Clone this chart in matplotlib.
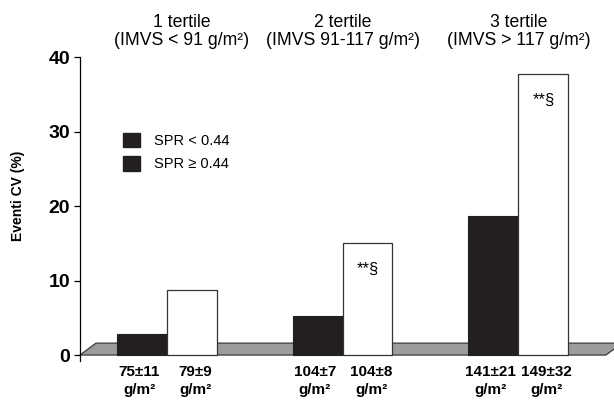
import matplotlib
matplotlib.use('Agg')
import matplotlib.pyplot as plt
from matplotlib.patches import Polygon, Patch

plt.rcParams['font.family'] = ['Liberation Sans', 'DejaVu Sans']

# data
groups = ['1 tertile', '2 tertile', '3 tertile']
ranges = ['(IMVS < 91 g/m\u00b2)', '(IMVS 91-117 g/m\u00b2)', '(IMVS > 117 g/m\u00b2)']
spr_low = [2.8, 5.2, 18.6]       # SPR < 0.44 (black)
spr_high = [8.7, 15.0, 37.7]     # SPR >= 0.44 (white)
low_labels = ['75\u00b111\ng/m\u00b2', '104\u00b17\ng/m\u00b2', '141\u00b121\ng/m\u00b2']
high_labels = ['79\u00b19\ng/m\u00b2', '104\u00b18\ng/m\u00b2', '149\u00b132\ng/m\u00b2']
marks = ['', '**\u00a7', '**\u00a7']

fig = plt.figure(figsize=(6.14, 4.0), dpi=100)
ax = fig.add_axes([80/614, 39/400, 526/614, 304/400])

w = 0.284
xs = list(range(len(groups)))
xl, xr = -0.4925, 2.498
ax.set_xlim(xl, xr)
ax.set_ylim(-0.8, 40)

# grey floor of the pseudo-3d chart
dx, dy = 0.091, 1.6
floor = Polygon([(xl, 0), (xr, 0), (xr + dx, dy), (xl + dx, dy)], closed=True,
                facecolor='#9c9c9e', edgecolor='#3a3a3a', lw=0.9, clip_on=False, zorder=1)
ax.add_patch(floor)

xb = [x - w/2 for x in xs]
xw = [x + w/2 for x in xs]
ax.bar(xb, spr_low, width=w, color='#231f20', edgecolor='#231f20', lw=0.8, zorder=3)
ax.bar(xw, spr_high, width=w, color='white', edgecolor='#333333', lw=0.9, zorder=3)

for x, v, m in zip(xw, spr_high, marks):
    if m:
        ax.text(x, v - 3.5, m, ha='center', va='center', fontsize=12, zorder=4)

# headers above each tertile
hx = [0.087, 1.0, 2.0]
for x, g, r in zip(hx, groups, ranges):
    ax.text(x, 1.115, g, transform=ax.get_xaxis_transform(), ha='center', va='center',
            fontsize=12.7, clip_on=False)
    ax.text(x, 1.054, r, transform=ax.get_xaxis_transform(), ha='center', va='center',
            fontsize=12.7, clip_on=False)

# axes styling
for s in ['top', 'right', 'bottom']:
    ax.spines[s].set_visible(False)
ax.spines['left'].set_linewidth(0.9)
ax.set_yticks([0, 10, 20, 30, 40])
ax.set_yticklabels(['0', '10', '20', '30', '40'], fontsize=14, fontweight='bold')
ax.tick_params(axis='y', length=4, width=0.9, pad=3)

ticks = []
labels = []
for a, b, la, lb in zip(xb, xw, low_labels, high_labels):
    ticks += [a - 0.015, b + 0.02]
    labels += [la, lb]
ax.set_xticks(ticks)
ax.set_xticklabels(labels, fontsize=11, fontweight='bold', linespacing=1.35)
ax.tick_params(axis='x', length=0, pad=3)

fig.text(18/614, 1 - 196/400, 'Eventi CV (%)', rotation=90, ha='center', va='center',
         fontsize=10, fontweight='bold')

handles = [Patch(facecolor='#231f20', edgecolor='#231f20'),
           Patch(facecolor='#231f20', edgecolor='#231f20')]
ax.legend(handles, ['SPR < 0.44', 'SPR \u2265 0.44'], loc='upper left',
          bbox_to_anchor=(123/614, 1 - 133/400), bbox_transform=fig.transFigure,
          frameon=False, fontsize=10.5, handlelength=1.15, handleheight=1.15,
          labelspacing=0.55, handletextpad=1.0, borderpad=0, borderaxespad=0)

fig.savefig('out.png', dpi=100)
